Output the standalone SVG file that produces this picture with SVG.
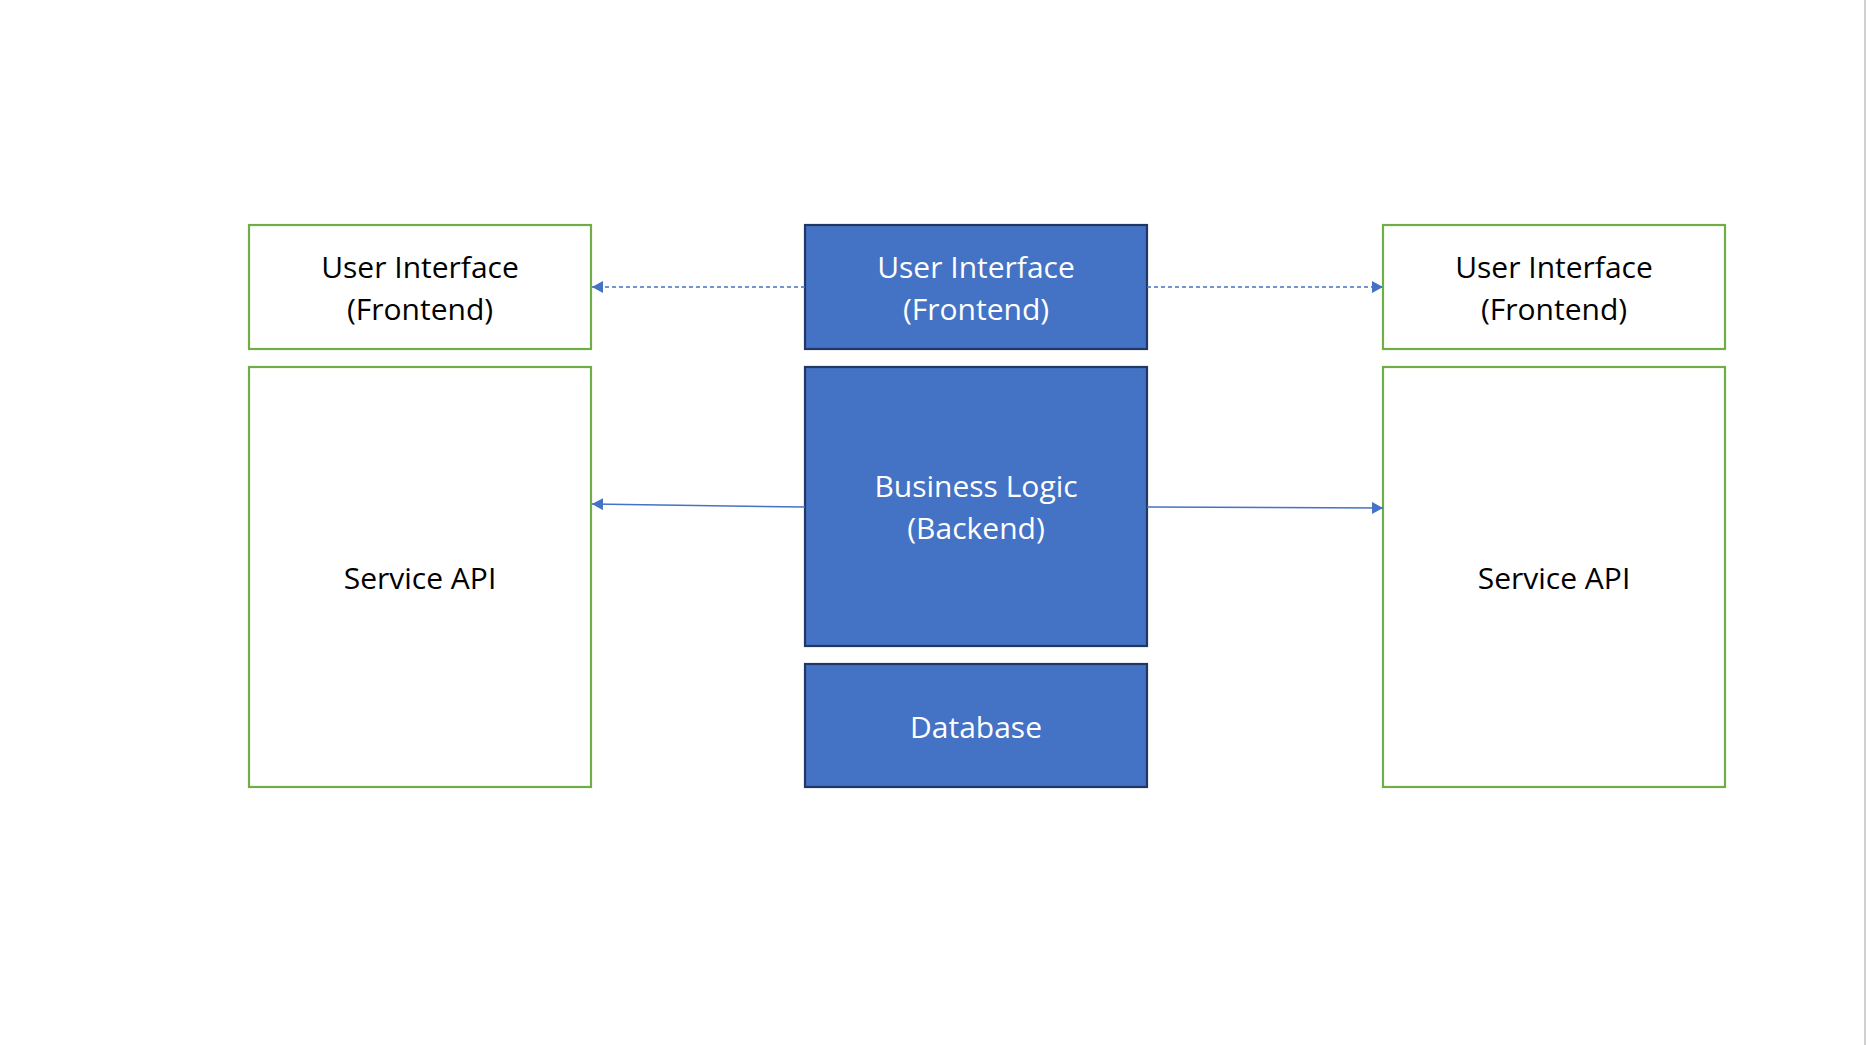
<svg xmlns="http://www.w3.org/2000/svg" width="1866" height="1045" viewBox="0 0 1866 1045">
<defs>
<style>
.green{fill:#ffffff;stroke:#70AD47;stroke-width:2.2}
.blue{fill:#4472C4;stroke:#1F3864;stroke-width:2.2}
.tb{font-family:"Open Sans","Noto Sans","Liberation Sans",sans-serif;font-size:30px;fill:#000000;text-anchor:middle}
.tw{font-family:"Open Sans","Noto Sans","Liberation Sans",sans-serif;font-size:30px;fill:#ffffff;text-anchor:middle}
.conn{stroke:#4472C4;stroke-width:1.5;fill:none}
.dash{stroke-dasharray:4 3}
</style>
<marker id="arr" markerWidth="12" markerHeight="12" refX="11" refY="6" orient="auto" markerUnits="userSpaceOnUse">
<path d="M0,0 L11,6 L0,12 Z" fill="#4472C4"/>
</marker>
</defs>
<rect width="1866" height="1045" fill="#ffffff"/>
<line x1="1865" y1="0" x2="1865" y2="1045" stroke="#d0d0d0" stroke-width="2"/>
<g id="ui-left">
<rect class="green" x="249" y="225" width="342" height="124"/>
<text class="tb" x="420" y="278">User Interface</text>
<text class="tb" x="420" y="320">(Frontend)</text>
</g>
<g id="ui-center">
<rect class="blue" x="805" y="225" width="342" height="124"/>
<text class="tw" x="976" y="278">User Interface</text>
<text class="tw" x="976" y="320">(Frontend)</text>
</g>
<g id="ui-right">
<rect class="green" x="1383" y="225" width="342" height="124"/>
<text class="tb" x="1554" y="278">User Interface</text>
<text class="tb" x="1554" y="320">(Frontend)</text>
</g>
<g id="api-left">
<rect class="green" x="249" y="367" width="342" height="420"/>
<text class="tb" x="420" y="589">Service API</text>
</g>
<g id="logic">
<rect class="blue" x="805" y="367" width="342" height="279"/>
<text class="tw" x="976" y="497">Business Logic</text>
<text class="tw" x="976" y="539">(Backend)</text>
</g>
<g id="database">
<rect class="blue" x="805" y="664" width="342" height="123"/>
<text class="tw" x="976" y="738">Database</text>
</g>
<g id="api-right">
<rect class="green" x="1383" y="367" width="342" height="420"/>
<text class="tb" x="1554" y="589">Service API</text>
</g>
<g id="connectors">
<line class="conn dash" x1="805" y1="287" x2="592" y2="287" marker-end="url(#arr)"/>
<line class="conn dash" x1="1147" y1="287" x2="1383" y2="287" marker-end="url(#arr)"/>
<line class="conn" x1="805" y1="507" x2="592" y2="504" marker-end="url(#arr)"/>
<line class="conn" x1="1147" y1="507" x2="1383" y2="508" marker-end="url(#arr)"/>
</g>
</svg>
